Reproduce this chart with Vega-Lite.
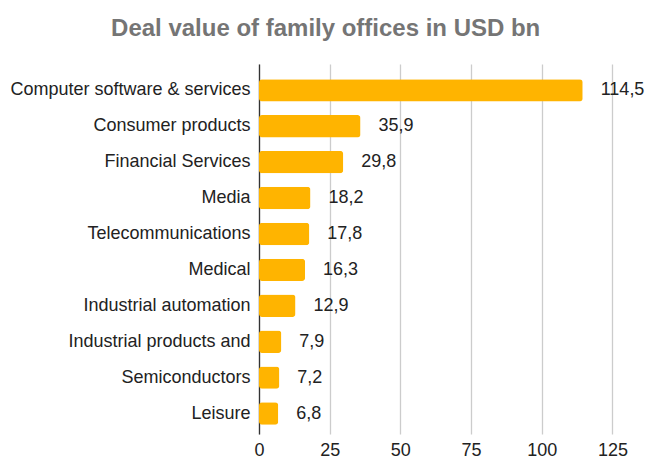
{
  "$schema": "https://vega.github.io/schema/vega-lite/v6.json",
  "autosize": {"type": "none"},
  "padding": {"left": 259, "top": 64, "right": 34, "bottom": 28},
  "width": 353.4,
  "height": 370,
  "config": {
    "locale": {"number": {"decimal": ",", "thousands": ".", "grouping": [3], "currency": ["", ""]}},
    "view": {"stroke": null},
    "font": "Liberation Sans"
  },
  "title": {
    "text": "Deal value of family offices in USD bn",
    "font": "Liberation Sans",
    "fontSize": 24,
    "fontWeight": "bold",
    "color": "#757575",
    "anchor": "middle",
    "dx": -110,
    "offset": 23
  },
  "data": {
    "values": [
      {"sector": "Computer software & services", "value": 114.5},
      {"sector": "Consumer products", "value": 35.9},
      {"sector": "Financial Services", "value": 29.8},
      {"sector": "Media", "value": 18.2},
      {"sector": "Telecommunications", "value": 17.8},
      {"sector": "Medical", "value": 16.3},
      {"sector": "Industrial automation", "value": 12.9},
      {"sector": "Industrial products and", "value": 7.9},
      {"sector": "Semiconductors", "value": 7.2},
      {"sector": "Leisure", "value": 6.8}
    ]
  },
  "encoding": {
    "y": {
      "field": "sector",
      "type": "nominal",
      "sort": null,
      "title": null,
      "scale": {"paddingInner": 0.376, "paddingOuter": 0.34, "align": 0.62},
      "axis": {
        "labelFont": "Liberation Sans",
        "labelFontSize": 18,
        "labelColor": "#222222",
        "labelPadding": 9,
        "ticks": false,
        "domainColor": "#333333",
        "domainWidth": 1.3,
        "labelLimit": 300
      }
    },
    "x": {
      "field": "value",
      "type": "quantitative",
      "title": null,
      "scale": {"domain": [0, 125], "nice": false},
      "axis": {
        "values": [0, 25, 50, 75, 100, 125],
        "format": "d",
        "labelFont": "Liberation Sans",
        "labelFontSize": 18,
        "labelColor": "#222222",
        "labelPadding": 8,
        "labelFlush": false,
        "ticks": false,
        "domain": false,
        "gridColor": "#cccccc",
        "gridWidth": 1.3
      }
    }
  },
  "layer": [
    {
      "mark": {"type": "bar", "color": "#FFB400", "cornerRadius": 3}
    },
    {
      "mark": {"type": "text", "align": "left", "dx": 18, "fontSize": 18, "font": "Liberation Sans", "color": "#222222"},
      "encoding": {
        "text": {"field": "value", "type": "quantitative", "format": ".1f"}
      }
    }
  ]
}
